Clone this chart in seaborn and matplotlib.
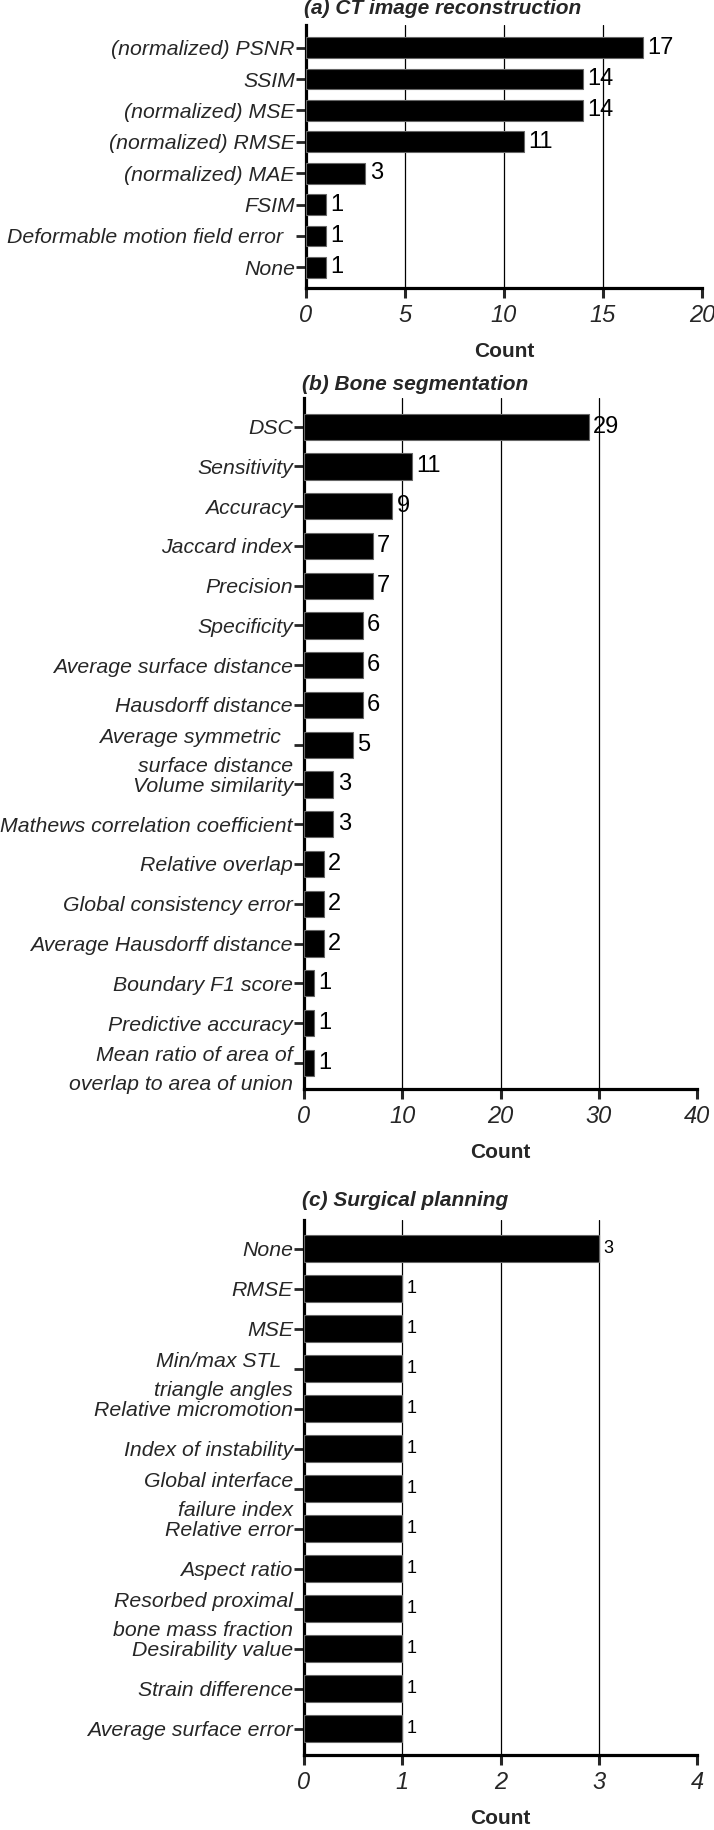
import matplotlib
matplotlib.use("Agg")
import matplotlib.pyplot as plt
import seaborn as sns
import pandas as pd

# (a) CT image reconstruction
ct_metrics = ["(normalized) PSNR", "SSIM", "(normalized) MSE", "(normalized) RMSE",
              "(normalized) MAE", "FSIM", "Deformable motion field error  ", "None"]
ct_counts = [17, 14, 14, 11, 3, 1, 1, 1]
ct_ticks = [0, 5, 10, 15, 20]

# (b) Bone segmentation
bone_metrics = ["DSC", "Sensitivity", "Accuracy", "Jaccard index", "Precision",
                "Specificity", "Average surface distance", "Hausdorff distance",
                "Average symmetric  \nsurface distance", "Volume similarity",
                "Mathews correlation coefficient", "Relative overlap",
                "Global consistency error", "Average Hausdorff distance",
                "Boundary F1 score", "Predictive accuracy",
                "Mean ratio of area of\noverlap to area of union"]
bone_counts = [29, 11, 9, 7, 7, 6, 6, 6, 5, 3, 3, 2, 2, 2, 1, 1, 1]
bone_ticks = [0, 10, 20, 30, 40]

# (c) Surgical planning
surg_metrics = ["None", "RMSE", "MSE", "Min/max STL  \ntriangle angles",
                "Relative micromotion", "Index of instability",
                "Global interface\nfailure index", "Relative error", "Aspect ratio",
                "Resorbed proximal\nbone mass fraction", "Desirability value",
                "Strain difference", "Average surface error"]
surg_counts = [3, 1, 1, 1, 1, 1, 1, 1, 1, 1, 1, 1, 1]
surg_ticks = [0, 1, 2, 3, 4]

sns.set_style("white")
plt.rcParams['font.family'] = ['Liberation Sans', 'DejaVu Sans']

fig = plt.figure(figsize=(7.14, 18.30), dpi=100)

panels = [
    (ct_metrics, ct_counts, ct_ticks, "(a) CT image reconstruction",
     [0.4286, 0.8426, 0.5546, 0.1437], 17, 8),
    (bone_metrics, bone_counts, bone_ticks, "(b) Bone segmentation",
     [0.4258, 0.4049, 0.5504, 0.3776], 17, 6),
    (surg_metrics, surg_counts, surg_ticks, "(c) Surgical planning",
     [0.4258, 0.0410, 0.5504, 0.2924], 13, 10),
]

for metrics, counts, ticks, title, pos, val_size, tpad in panels:
    ax = fig.add_axes(pos)
    df = pd.DataFrame({"metric": metrics, "count": counts})
    sns.barplot(data=df, x="count", y="metric", color="black", width=0.66,
                edgecolor="#666666", linewidth=0.8, saturation=1, ax=ax, zorder=3)
    n = len(metrics)
    ax.set_ylim(n - 1 + 0.66, -0.72)
    ax.set_xlim(ticks[0], ticks[-1])
    ax.set_xticks(ticks)
    for t in ticks[1:-1]:
        ax.axvline(t, color="black", lw=0.9, zorder=1)

    for c in ax.containers:
        ax.bar_label(c, padding=3, fontsize=val_size, color="black")

    sns.despine(ax=ax, top=True, right=True)
    for s in ["left", "bottom"]:
        ax.spines[s].set_linewidth(2.3)
        ax.spines[s].set_color("black")

    ax.tick_params(axis="x", length=7.5, width=2.2, pad=4, labelsize=17, bottom=True)
    ax.tick_params(axis="y", length=7, width=2, pad=1, labelsize=15.3, left=True)
    for lab in ax.get_xticklabels() + ax.get_yticklabels():
        lab.set_fontstyle("italic")
    for lab in ax.get_yticklabels():
        lab.set_linespacing(1.7)

    ax.set_ylabel("")
    ax.set_xlabel("Count", fontsize=15, fontweight="bold", labelpad=11)
    ax.set_title(title, loc="left", fontsize=15, fontweight="bold",
                 fontstyle="italic", pad=tpad, x=-0.005)

fig.savefig("out.png", dpi=100)
